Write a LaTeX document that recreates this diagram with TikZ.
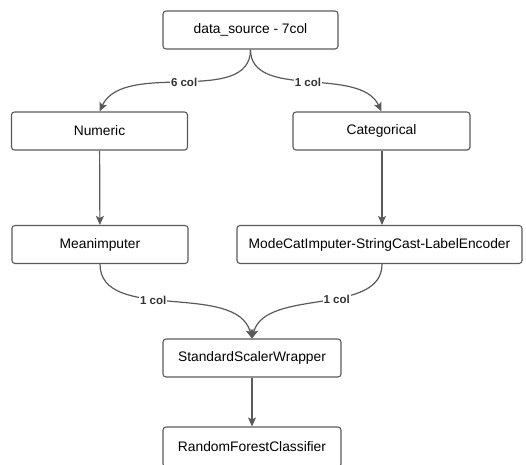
\documentclass[tikz,border=0pt]{standalone}
\usepackage{xcolor}
\usepackage{fontspec}
\setmainfont{Liberation Sans}
\usepackage{tikz}
\usetikzlibrary{arrows.meta}

\definecolor{edgegray}{HTML}{5A5A5A}

\begin{document}
\begin{tikzpicture}[x=1pt, y=-1pt,
      box/.style={draw=edgegray, line width=1.1pt, rounded corners=3pt, minimum width=176pt,
                  minimum height=38pt, align=center, inner sep=0pt, font=\fontsize{13.8}{16}\selectfont},
      arrow/.style={-{Stealth[length=9pt, width=8pt, inset=2pt]}, draw=edgegray, line width=1.2pt},
      lbl/.style={fill=white, inner sep=1pt, font=\fontsize{11.5}{13}\selectfont\bfseries, text=black!80},
    ]
    \useasboundingbox (0,0) rectangle (526,464);

    % Source
    \node[box, minimum width=175pt] (src) at (250.5,30) {data\_source - 7col};

    % Numeric branch
    \node[box] (num) at (99.5,131) {Numeric};

    % Categorical branch
    \node[box, minimum width=177pt] (cat) at (381.5,131) {Categorical};

    % Imputers
    \node[box] (mean) at (100,244.5) {Meanimputer};
    \node[box, minimum width=285pt] (mode) at (379.5,244.5) {ModeCatImputer-StringCast-LabelEncoder};

    % Scaler
    \node[box, minimum width=178pt] (scaler) at (252,358) {StandardScalerWrapper};

    % Model
    \node[box, minimum width=178pt, minimum height=40pt] (rf) at (252,447) {RandomForestClassifier};

    % Arrows
    \draw[arrow] (src.south) to[out=-90, in=65, looseness=0.9] node[lbl, pos=0.5]{6 col} (num.north);
    \draw[arrow] (src.south) to[out=-90, in=115, looseness=0.9] node[lbl, pos=0.5]{1 col} (cat.north);
    \draw[arrow] (num) -- (mean);
    \draw[arrow] (cat.south -| 382,0) -- (mode.north -| 382,0);
    \draw[arrow] (mean.south) to[out=-90, in=105, looseness=0.9] node[lbl, pos=0.42]{1 col} (scaler.north);
    \draw[arrow] (mode.south -| 382,0) to[out=-90, in=75, looseness=0.9] node[lbl, pos=0.42]{1 col} (scaler.north);
    \draw[arrow] (scaler) -- (rf);

  \end{tikzpicture}
\end{document}
